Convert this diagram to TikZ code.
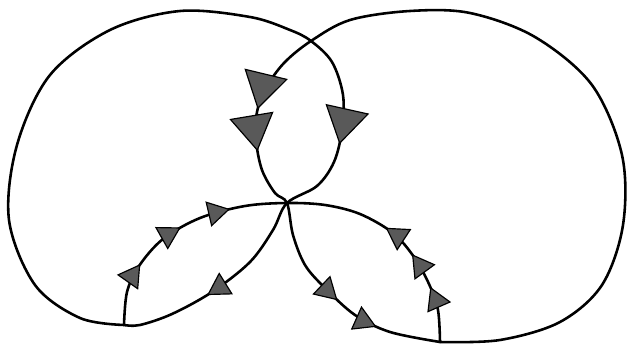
\documentclass[tikz,border=0pt]{standalone}
\usetikzlibrary{arrows.meta,decorations.markings}
\tikzset{
  bigtip/.tip={Triangle[width=38pt,length=31pt,fill=black!65,line width=1pt]},
  smalltip/.tip={Triangle[width=22pt,length=19pt,fill=black!65,line width=1pt]},
  curve/.style={draw=black,line width=2.2pt,line cap=round,line join=round},
  carrier/.style={draw=none,postaction={decorate}},
}
\begin{document}
\begin{tikzpicture}[x=0.03cm,y=-0.03cm]
\useasboundingbox (0,0) rectangle (631,344);
\coordinate (T) at (311,41);
\coordinate (B) at (287,203);
\coordinate (L) at (124,325);
\coordinate (R) at (440,342);
% strand: left lobe -> T -> middle right arc -> B -> left lens lower arc -> L
\draw[curve] plot[smooth,tension=0.55] coordinates {(L) (80,318) (35,285) (9,220) (17,145) (50,75) (110,30) (180,11) (250,17) (290,30) (T) (332,62) (343,95) (342,130) (334,162) (317,186) (B) (273,230) (250,262) (212,292) (172,314) (140,325) (L)};
% strand: right lobe -> T -> middle left arc -> B -> right lens lower arc -> R
\draw[curve] plot[smooth,tension=0.55] coordinates {(R) (500,340) (560,322) (602,285) (623,225) (622,155) (592,85) (535,37) (470,13) (410,11) (350,20) (T) (284,63) (266,88) (257,112) (256,140) (262,170) (275,193) (B) (293,235) (305,265) (325,288) (355,315) (390,332) (R)};
% strand: left lens upper arc -> B -> right lens upper arc
\draw[curve] plot[smooth,tension=0.55] coordinates {(L) (127,292) (139,266) (163,239) (200,218) (245,206) (B) (325,205) (360,214) (393,233) (414,257) (429,284) (438,310) (R)};
% arrowheads on each edge
\path[carrier,decoration={markings,
  mark=at position 0.46 with {\arrow{bigtip}},
  mark=at position 0.68 with {\arrow{bigtip}}}]
  plot[smooth,tension=0.55] coordinates {(T) (284,63) (266,88) (257,112) (256,140) (262,170) (275,193) (B)};
\path[carrier,decoration={markings,
  mark=at position 0.58 with {\arrow{bigtip}}}]
  plot[smooth,tension=0.55] coordinates {(T) (332,62) (343,95) (342,130) (334,162) (317,186) (B)};
\path[carrier,decoration={markings,
  mark=at position 0.28 with {\arrow{smalltip}},
  mark=at position 0.52 with {\arrow{smalltip}},
  mark=at position 0.75 with {\arrow{smalltip}}}]
  plot[smooth,tension=0.55] coordinates {(L) (127,292) (139,266) (163,239) (200,218) (245,206) (B)};
\path[carrier,decoration={markings,
  mark=at position 0.58 with {\arrow{smalltip}}}]
  plot[smooth,tension=0.55] coordinates {(B) (273,230) (250,262) (212,292) (172,314) (140,325) (L)};
\path[carrier,decoration={markings,
  mark=at position 0.24 with {\arrow{smalltip}},
  mark=at position 0.40 with {\arrow{smalltip}},
  mark=at position 0.56 with {\arrow{smalltip}}}]
  plot[smooth,tension=0.55] coordinates {(R) (438,310) (429,284) (414,257) (393,233) (360,214) (325,205) (B)};
\path[carrier,decoration={markings,
  mark=at position 0.50 with {\arrow{smalltip}},
  mark=at position 0.71 with {\arrow{smalltip}}}]
  plot[smooth,tension=0.55] coordinates {(B) (293,235) (305,265) (325,288) (355,315) (390,332) (R)};
\end{tikzpicture}
\end{document}
